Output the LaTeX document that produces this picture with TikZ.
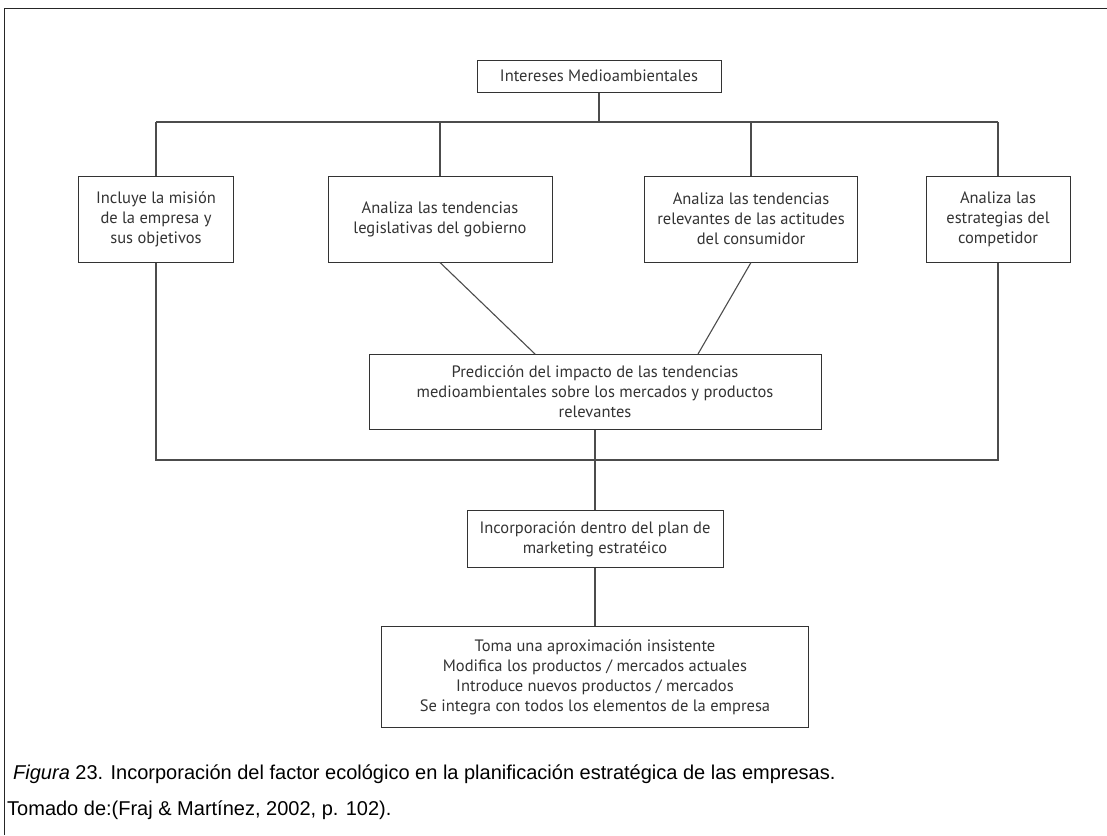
\documentclass[tikz,border=0pt]{standalone}
\usepackage{fontspec}
\setmainfont{PT Sans}
\newfontfamily\capfont{Liberation Sans}
\usetikzlibrary{positioning, calc}

\begin{document}
\begin{tikzpicture}[x=1pt, y=-1pt,
  box/.style={draw=black!80, line width=1pt, align=center, inner sep=2pt,
              font=\fontsize{16.5}{20}\selectfont, text=black!80},
  link/.style={draw=black!70, line width=1.1pt},
  caption/.style={anchor=base west, inner sep=0pt, font=\capfont\fontsize{20}{24}\selectfont}]
  \useasboundingbox (0,0) rectangle (1107,835);

  % Frame (top and left only)
  \draw[black!85, line width=1pt] (4,835) -- (4,8) -- (1107,8);

  % Top box
  \node[box, minimum width=244, minimum height=32] (interes) at (599,76) {Intereses Medioambientales};

  % Four analysis boxes
  \node[box, minimum width=155, minimum height=86] (mision) at (156,219)
    {Incluye la misión\\de la empresa y\\sus objetivos};
  \node[box, minimum width=224, minimum height=86] (legis) at (440,219)
    {Analiza las tendencias\\legislativas del gobierno};
  \node[box, minimum width=213, minimum height=86] (consum) at (751,219)
    {Analiza las tendencias\\relevantes de las actitudes\\del consumidor};
  \node[box, minimum width=144, minimum height=86] (compet) at (998,219)
    {Analiza las\\estrategias del\\competidor};

  % Prediction, plan and action boxes
  \node[box, minimum width=452, minimum height=75] (pred) at (595,392)
    {Predicción del impacto de las tendencias\\medioambientales sobre los mercados y productos\\relevantes};
  \node[box, minimum width=256, minimum height=57] (incorp) at (595,539)
    {Incorporación dentro del plan de\\marketing estratéico};
  \node[box, minimum width=427, minimum height=101] (acciones) at (595,677)
    {Toma una aproximación insistente\\Modifica los productos / mercados actuales\\Introduce nuevos productos / mercados\\Se integra con todos los elementos de la empresa};

  % Upper bus
  \coordinate (busL) at (156,122);
  \coordinate (busR) at (998,122);
  \draw[link] (interes.south) -- (interes.south |- busL);
  \draw[link] (busL) -- (busR);
  \foreach \n in {mision, legis, consum, compet}
    \draw[link] (\n.north) -- (\n.north |- busL);

  % Lower bus and diagonals
  \coordinate (busB) at (156,460);
  \draw[link] (mision.south) |- (compet.south |- busB) -- (compet.south);
  \draw[link] (legis.south) -- ($(pred.north)+(-60,0)$);
  \draw[link] (consum.south) -- ($(pred.north)+(103,0)$);
  \draw[link] (pred.south) -- (incorp.north);
  \draw[link] (incorp.south) -- (acciones.north);

  % Caption
  \node[caption] (figcap) at (13,779) {\textit{Figura} 23. Incorporación del factor ecológico en la planificación estratégica de las empresas.};
  \node[caption] (fuente) at (7,815) {Tomado de:(Fraj \& Martínez, 2002, p. 102).};
\end{tikzpicture}
\end{document}
